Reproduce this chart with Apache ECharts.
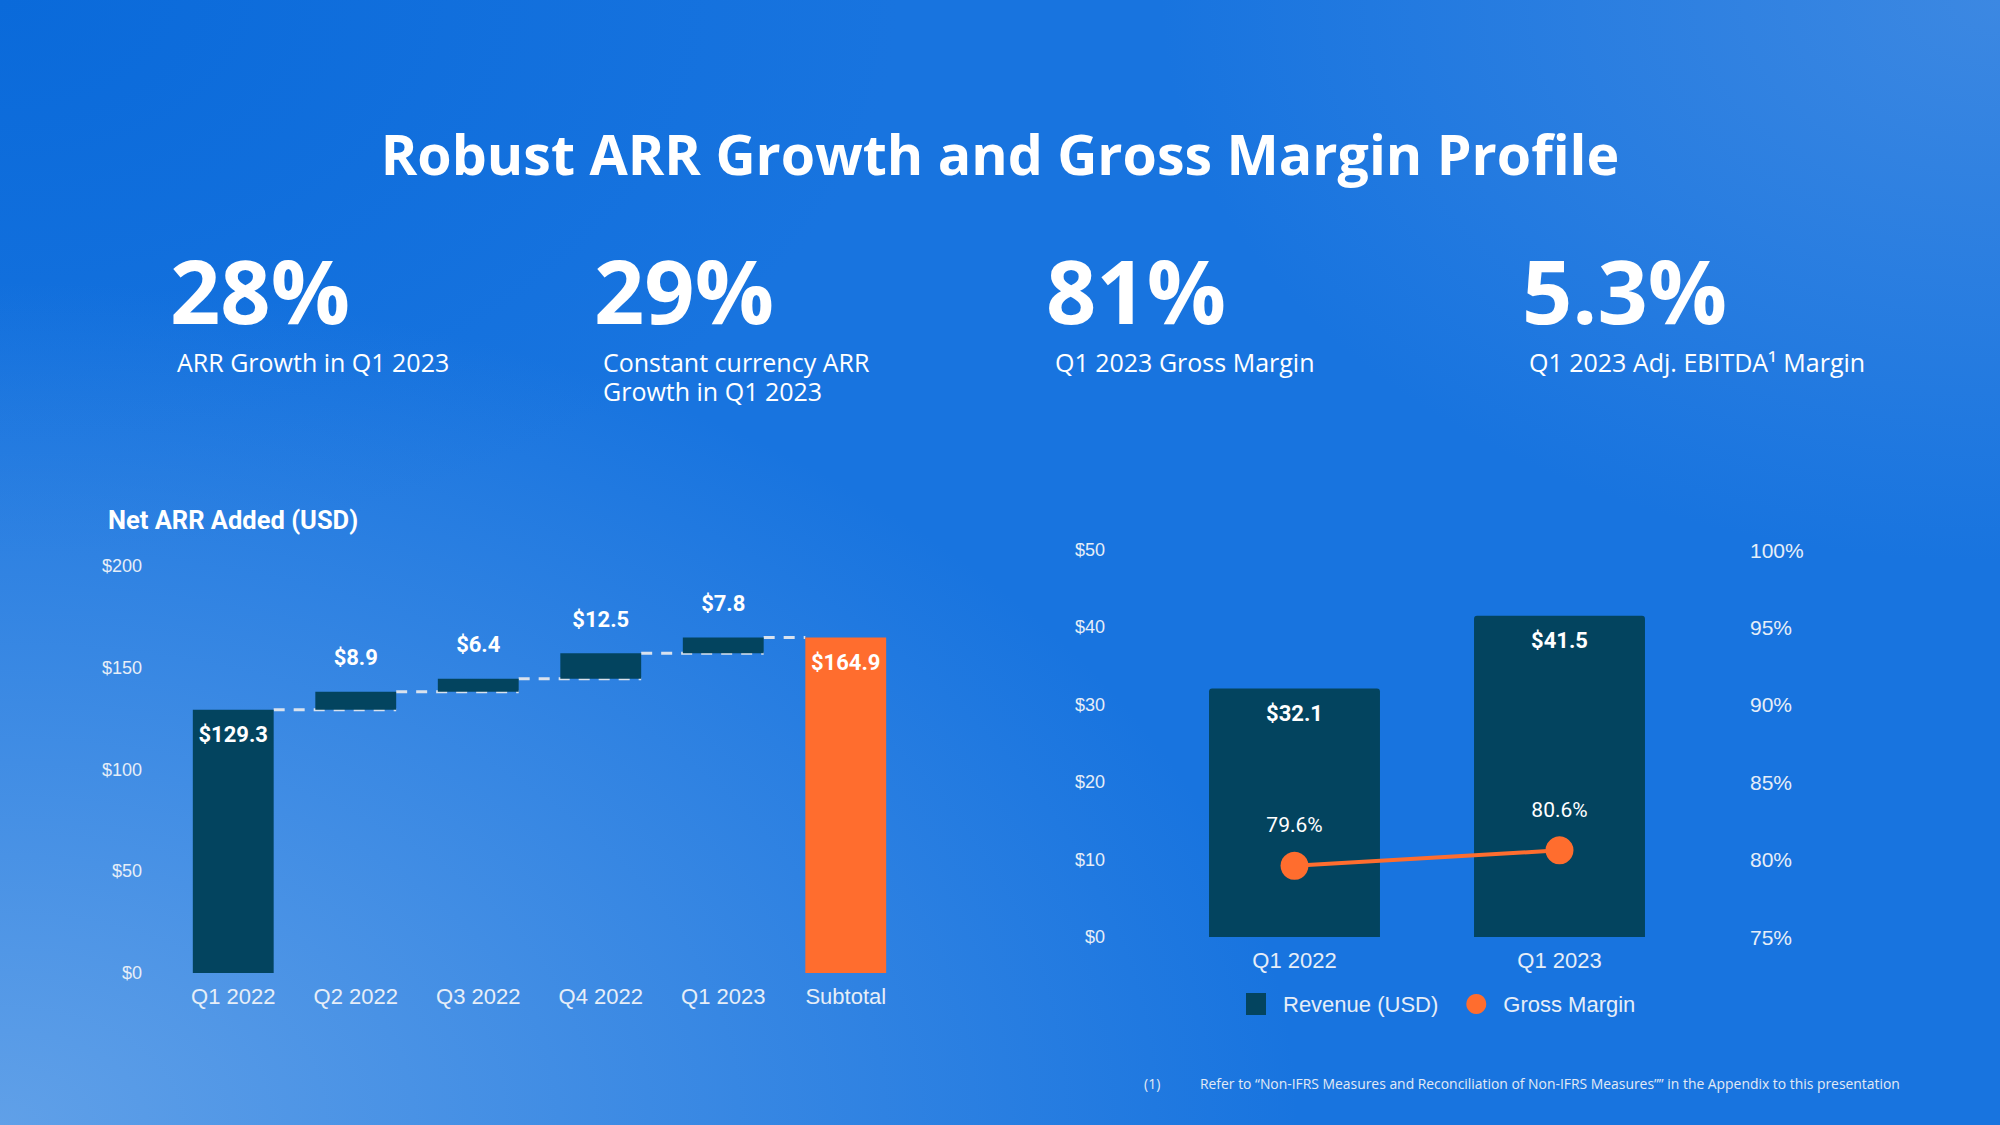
<!DOCTYPE html>
<html>
<head>
<meta charset="utf-8">
<script src="https://cdn.jsdelivr.net/npm/echarts@6/dist/echarts.min.js"></script>
<style>
  html, body { margin: 0; padding: 0; }
  #wrap {
    width: 2000px; height: 1125px; position: relative; overflow: hidden;
    background:
      radial-gradient(ellipse 65% 75% at 0% 100%, rgba(96,160,232,1) 0%, rgba(96,160,232,0.55) 45%, rgba(96,160,232,0) 100%),
      radial-gradient(ellipse 42% 50% at 100% 0%, rgba(60,136,226,1) 0%, rgba(60,136,226,0) 100%),
      radial-gradient(ellipse 45% 50% at 0% 0%, rgba(10,106,218,1) 0%, rgba(10,106,218,0) 100%),
      #1874DF;
  }
  #chart { width: 2000px; height: 1125px; }
</style>
</head>
<body>
<div id="wrap"><div id="chart"></div></div>
<script>
// ---------- data ----------
const arrCategories = ['Q1 2022', 'Q2 2022', 'Q3 2022', 'Q4 2022', 'Q1 2023', 'Subtotal'];
const netArrAdded = [129.3, 8.9, 6.4, 12.5, 7.8];
const arrSubtotal = 164.9;
const arrTicks = [0, 50, 100, 150, 200];

const revCategories = ['Q1 2022', 'Q1 2023'];
const revenue = [32.1, 41.5];
const grossMargin = [79.6, 80.6];
const revTicks = [0, 10, 20, 30, 40, 50];
const marginTicks = [75, 80, 85, 90, 95, 100];

const kpiValues = ['28%', '29%', '81%', '5.3%'];
const kpiLabels = [['ARR Growth in Q1 2023'], ['Constant currency ARR', 'Growth in Q1 2023'], ['Q1 2023 Gross Margin'], ['Q1 2023 Adj. EBITDA\u00B9 Margin']];

// ---------- derived ----------
const DARK = '#03445F';
const ORANGE = '#FF6D2E';
const AXIS_TXT = '#E6EEF8';

const bases = [];
const levels = [];
let run = 0;
netArrAdded.forEach((v, i) => {
  bases.push(i === 0 ? 0 : run);
  run += v;
  levels.push([i, +run.toFixed(1)]);
});
bases.push(0);

const valueData = netArrAdded.map((v, i) => ({
  value: v,
  itemStyle: { color: DARK },
  label: i === 0 ? { position: 'insideTop', distance: 14 } : { position: 'top', distance: 23 }
}));
valueData.push({ value: arrSubtotal, itemStyle: { color: ORANGE }, label: { position: 'insideTop', distance: 14 } });

const chart = echarts.init(document.getElementById('chart'), null, { renderer: 'svg', width: 2000, height: 1125 });

const kpiX = [170, 594, 1046, 1522];
const kpiSubX = [177, 603, 1055, 1529];
const graphics = [
  { type: 'text', style: { text: 'Robust ARR Growth and Gross Margin Profile', x: 1000, y: 153, align: 'center', verticalAlign: 'middle',
      fontFamily: 'Open Sans', fontWeight: 'bold', fontSize: 55.5, fill: '#FFFFFF' } },
  { type: 'text', style: { text: 'Net ARR Added (USD)', x: 108, y: 520, align: 'left', verticalAlign: 'middle',
      fontFamily: 'Roboto', fontWeight: 'bold', fontSize: 25.5, fill: '#FFFFFF' } },
  { type: 'text', style: { text: '(1)', x: 1144, y: 1083, align: 'left', verticalAlign: 'middle',
      fontFamily: 'Open Sans', fontSize: 14, fill: '#E2EAF5' } },
  { type: 'text', style: { text: 'Refer to \u201CNon-IFRS Measures and Reconciliation of Non-IFRS Measures\u201D\u201D in the Appendix to this presentation', x: 1200, y: 1083, align: 'left', verticalAlign: 'middle',
      fontFamily: 'Open Sans', fontSize: 13.9, fill: '#E2EAF5' } }
];
kpiValues.forEach((t, i) => {
  graphics.push({ type: 'text', style: { text: t, x: kpiX[i], y: 290, align: 'left', verticalAlign: 'middle',
    fontFamily: 'Open Sans', fontWeight: 'bold', fontSize: 88, fill: '#FFFFFF' } });
  kpiLabels[i].forEach((line, j) => {
    graphics.push({ type: 'text', style: { text: line, x: kpiSubX[i], y: 362 + j * 29, align: 'left', verticalAlign: 'middle',
      fontFamily: 'Open Sans', fontSize: 25, fill: '#FFFFFF' } });
  });
});

const option = {
  backgroundColor: 'transparent',
  animation: false,
  graphic: graphics,
  legend: {
    show: true,
    left: 1241, top: 988,
    itemWidth: 20, itemHeight: 22, itemGap: 28,
    textStyle: { color: AXIS_TXT, fontFamily: 'Liberation Sans', fontSize: 22, padding: [0, 0, 0, 12] },
    data: [{ name: 'Revenue (USD)', icon: 'rect' }, { name: 'Gross Margin', icon: 'circle' }]
  },
  grid: [
    { left: 172, right: 1093, top: 566, bottom: 152 },
    { left: 1162, right: 308, top: 550, bottom: 188 }
  ],
  xAxis: [
    { type: 'category', gridIndex: 0, data: arrCategories,
      axisLine: { show: false }, axisTick: { show: false },
      axisLabel: { color: AXIS_TXT, fontFamily: 'Liberation Sans', fontSize: 22, margin: 12 } },
    { type: 'category', gridIndex: 1, data: revCategories,
      axisLine: { show: false }, axisTick: { show: false },
      axisLabel: { color: AXIS_TXT, fontFamily: 'Liberation Sans', fontSize: 22, margin: 12 } }
  ],
  yAxis: [
    { type: 'value', gridIndex: 0, min: arrTicks[0], max: arrTicks[arrTicks.length - 1], interval: arrTicks[1] - arrTicks[0],
      splitLine: { show: false }, axisLine: { show: false }, axisTick: { show: false },
      axisLabel: { color: AXIS_TXT, fontFamily: 'Liberation Sans', fontSize: 18, margin: 30, formatter: v => '$' + v } },
    { type: 'value', gridIndex: 1, position: 'left', min: revTicks[0], max: revTicks[revTicks.length - 1], interval: revTicks[1] - revTicks[0],
      splitLine: { show: false }, axisLine: { show: false }, axisTick: { show: false },
      axisLabel: { color: AXIS_TXT, fontFamily: 'Liberation Sans', fontSize: 18, margin: 57, formatter: v => '$' + v } },
    { type: 'value', gridIndex: 1, position: 'right', min: marginTicks[0], max: marginTicks[marginTicks.length - 1], interval: marginTicks[1] - marginTicks[0],
      splitLine: { show: false }, axisLine: { show: false }, axisTick: { show: false },
      axisLabel: { color: AXIS_TXT, fontFamily: 'Liberation Sans', fontSize: 21, margin: 58, formatter: v => v + '%' } }
  ],
  series: [
    { name: 'connector', type: 'custom', xAxisIndex: 0, yAxisIndex: 0, z: 1, silent: true,
      data: levels,
      renderItem: function (params, api) {
        const i = api.value(0);
        const p = api.coord([i, api.value(1)]);
        const band = api.size([1, 0])[0];
        const bw = band * 0.66;
        const x1 = p[0] + bw / 2;
        const x2 = (i === netArrAdded.length - 1) ? p[0] + band - bw / 2 : p[0] + band + bw / 2;
        return { type: 'line', shape: { x1: x1, y1: p[1], x2: x2, y2: p[1] },
          style: { stroke: '#D9E2EE', lineWidth: 3, lineDash: [11, 9] } };
      } },
    { name: 'base', type: 'bar', xAxisIndex: 0, yAxisIndex: 0, stack: 'w', barWidth: '66%', z: 2, silent: true,
      itemStyle: { color: 'transparent' }, data: bases },
    { name: 'Net ARR', type: 'bar', xAxisIndex: 0, yAxisIndex: 0, stack: 'w', barWidth: '66%', z: 3,
      label: { show: true, color: '#FFFFFF', fontFamily: 'Roboto', fontWeight: 'bold', fontSize: 22,
        formatter: p => '$' + p.value.toFixed(1) },
      data: valueData },
    { name: 'Revenue (USD)', type: 'bar', xAxisIndex: 1, yAxisIndex: 1, barWidth: '64.5%', z: 2,
      itemStyle: { color: DARK, borderRadius: [3, 3, 0, 0] },
      label: { show: true, position: 'insideTop', distance: 14, color: '#FFFFFF', fontFamily: 'Roboto', fontWeight: 'bold', fontSize: 22,
        formatter: p => '$' + p.value.toFixed(1) },
      data: revenue },
    { name: 'Gross Margin', type: 'line', xAxisIndex: 1, yAxisIndex: 2, z: 4,
      symbol: 'circle', symbolSize: 28,
      itemStyle: { color: ORANGE },
      lineStyle: { color: ORANGE, width: 4 },
      label: { show: true, position: 'top', distance: 16, color: '#FFFFFF', fontFamily: 'Roboto', fontSize: 21,
        formatter: p => p.value.toFixed(1) + '%' },
      data: grossMargin }
  ]
};
chart.setOption(option);
</script>
</body>
</html>
